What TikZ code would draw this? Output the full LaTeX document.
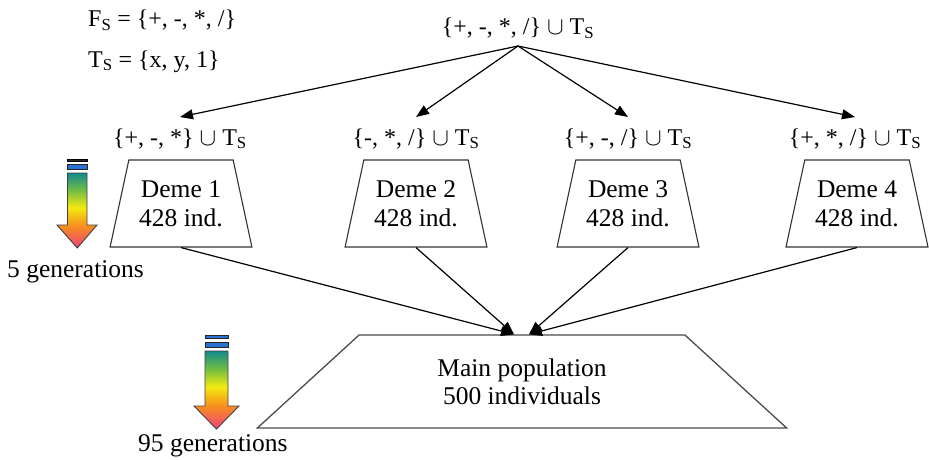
\documentclass[tikz,border=0pt]{standalone}
\usepackage{fontspec}
\setmainfont{Liberation Serif}
\usetikzlibrary{shapes.geometric,arrows.meta}
\definecolor{gPink}{HTML}{F0407A}
\definecolor{gOrange}{HTML}{F7901E}
\definecolor{gYellow}{HTML}{F2EA10}
\definecolor{gGreen}{HTML}{6DBB45}
\definecolor{gTeal}{HTML}{138A8C}
\definecolor{gBlue}{HTML}{2A72D2}
\pgfdeclareverticalshading{rainbowshade}{100bp}{color(0bp)=(gPink); color(25bp)=(gPink); color(40bp)=(gOrange); color(52bp)=(gYellow); color(64bp)=(gGreen); color(75bp)=(gTeal); color(100bp)=(gTeal)}
\begin{document}
\begin{tikzpicture}[x=1pt,y=-1pt,
  txt/.style={font=\fontsize{24}{29}\selectfont, inner sep=0pt},
  bigtxt/.style={font=\fontsize{25.5}{29}\selectfont, inner sep=0pt},
  setlabel/.style={txt, text height=18pt, text depth=6pt, outer sep=10pt},
  deme/.style={bigtxt, trapezium, draw=black!80, line width=1.1pt,
    trapezium left angle=72, trapezium right angle=72, trapezium stretches=true,
    minimum width=142pt, minimum height=87pt, align=center},
  mainpop/.style={bigtxt, font=\fontsize{25.5}{28}\selectfont, trapezium, draw=black!70, line width=1.3pt,
    trapezium left angle=41, trapezium right angle=41, trapezium stretches=true,
    minimum width=530pt, minimum height=93pt, align=center},
  conn/.style={draw=black, line width=1.2pt, -{Triangle[length=13pt,width=10pt]}},
  gradarrow/.style={draw=black!75, line width=0.9pt, shading=rainbowshade},
  barblack/.style={draw=black, fill=black!85, line width=0.8pt},
  barblue/.style={draw=black!85, fill=gBlue, line width=0.8pt}
]
\useasboundingbox (0,0) rectangle (929,460);

% set definitions
\node[txt, anchor=base west] (fs) at (88,27) {F\textsubscript{S} = \{+, -, *, /\}};
\node[txt, anchor=base west] (ts) at (88,67) {T\textsubscript{S} = \{x, y, 1\}};

% top set
\node[setlabel, outer sep=5pt] (top) at (518,29) {\{+, -, *, /\} $\cup$ T\textsubscript{S}};

% deme labels
\node[setlabel] (l1) at (180,139) {\{+, -, *\} $\cup$ T\textsubscript{S}};
\node[setlabel] (l2) at (416,139) {\{-, *, /\} $\cup$ T\textsubscript{S}};
\node[setlabel] (l3) at (628,139) {\{+, -, /\} $\cup$ T\textsubscript{S}};
\node[setlabel] (l4) at (855,139) {\{+, *, /\} $\cup$ T\textsubscript{S}};

% demes
\node[deme] (d1) at (181,203.5) {Deme 1\\428 ind.};
\node[deme] (d2) at (416,203.5) {Deme 2\\428 ind.};
\node[deme] (d3) at (628,203.5) {Deme 3\\428 ind.};
\node[deme] (d4) at (857,203.5) {Deme 4\\428 ind.};

% main population
\node[mainpop] (main) at (522,381.5) {Main population\\500 individuals};

% arrows from top
\foreach \l in {l1,l2,l3,l4} \draw[conn] (top.south) -- (\l.north);

% arrows to main
\draw[conn] (d1.south) -- ([xshift=-8pt]main.north);
\draw[conn] (d2.south) -- ([xshift=-8pt]main.north);
\draw[conn] (d3.south) -- ([xshift=7pt]main.north);
\draw[conn] (d4.south) -- ([xshift=7pt]main.north);

% generation arrow 1
\draw[barblack] (67.5,159) rectangle (87,161.5);
\draw[barblue] (67.5,164) rectangle (87,169);
\draw[gradarrow] (67.5,173) -- (87,173) -- (87,225) -- (97,225) -- (77.3,248) -- (57,225) -- (67.5,225) -- cycle;
\node[bigtxt, anchor=base west] (g5) at (7,277) {5 generations};

% generation arrow 2
\draw[barblue] (205,335) rectangle (228,338);
\draw[barblue] (205,342) rectangle (228,347);
\draw[gradarrow] (205,351) -- (228,351) -- (228,406) -- (239,406) -- (216.5,429) -- (194,406) -- (205,406) -- cycle;
\node[bigtxt, anchor=base west] (g95) at (138,451) {95 generations};
\end{tikzpicture}
\end{document}
